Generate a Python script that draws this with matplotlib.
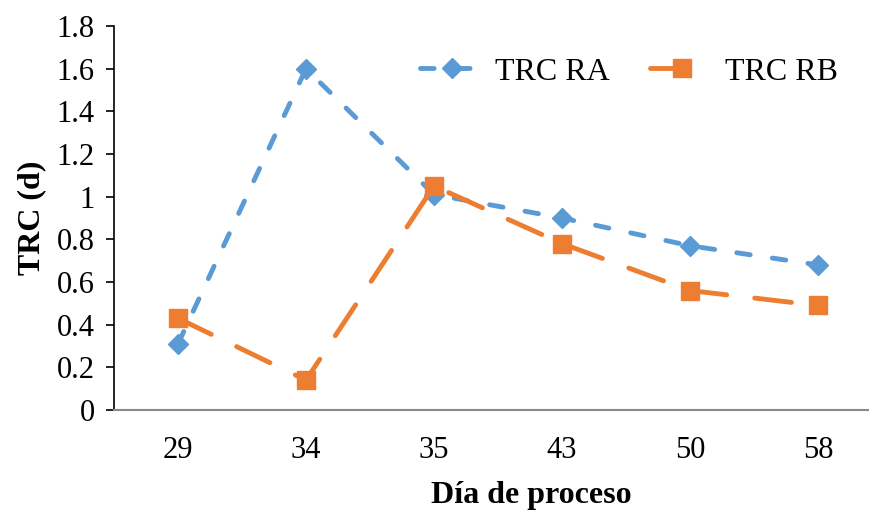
import matplotlib.pyplot as plt

plt.rcParams['font.family'] = ['Liberation Serif', 'DejaVu Serif']

dias = ['29', '34', '35', '43', '50', '58']
trc_ra = [0.31, 1.60, 1.01, 0.90, 0.77, 0.68]
trc_rb = [0.43, 0.14, 1.05, 0.78, 0.56, 0.49]

azul = '#5B9BD5'
naranja = '#ED7D31'

fig = plt.figure(figsize=(8.69, 5.12), dpi=100)
ax = fig.add_axes([114 / 869, 102 / 512, 768 / 869, 384 / 512])

x = list(range(len(dias)))
ax.plot(x, trc_ra, color=azul, lw=3.5, dashes=(2.8, 4.6), dash_capstyle='round',
        marker='D', ms=10, mec=azul, label='TRC RA')
ax.plot(x, trc_rb, color=naranja, lw=3.5, dashes=(7.6, 5.8), dash_capstyle='round',
        marker='s', ms=13, mec=naranja, label='TRC RB')

ax.set_xlim(-0.5, len(dias) - 0.5)
ax.set_ylim(0, 1.8)
ax.set_xticks(x)
ax.set_xticklabels(dias)
ax.set_yticks([0, 0.2, 0.4, 0.6, 0.8, 1, 1.2, 1.4, 1.6, 1.8])
ax.set_yticklabels(['0', '0.2', '0.4', '0.6', '0.8', '1', '1.2', '1.4', '1.6', '1.8'])

ax.spines['top'].set_visible(False)
ax.spines['right'].set_visible(False)
ax.spines['left'].set_color('black')
ax.spines['left'].set_linewidth(1.2)
ax.spines['bottom'].set_color('#898989')
ax.spines['bottom'].set_linewidth(1.5)

ax.tick_params(axis='y', direction='out', length=6, width=1.2, labelsize=22, pad=8)
ax.tick_params(axis='x', length=0, labelsize=22, pad=19)

ax.set_ylabel('TRC (d)', fontsize=23, fontweight='bold', labelpad=7)
ax.set_xlabel('Día de proceso', fontsize=23, fontweight='bold')
ax.xaxis.set_label_coords(531 / 869, 17 / 512, transform=fig.transFigure)
ax.xaxis.label.set_va('center')

ax.legend(loc='center', bbox_to_anchor=(629 / 869, 1 - 72 / 512),
          bbox_transform=fig.transFigure, ncol=2, frameon=False,
          fontsize=23, handlelength=2.0, columnspacing=1.25, handletextpad=0.35)

fig.savefig('out.png', dpi=100)
